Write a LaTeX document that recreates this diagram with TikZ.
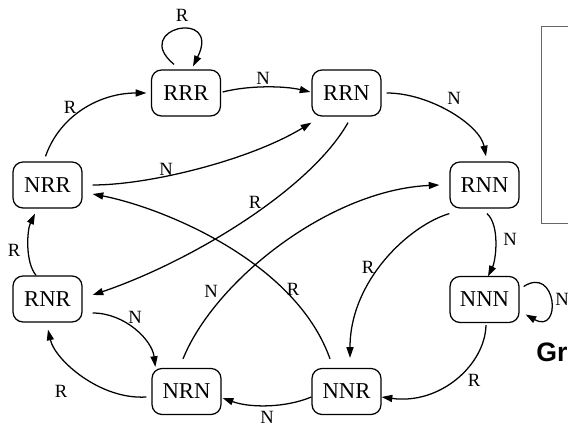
\documentclass[tikz,border=0pt]{standalone}
\usepackage{fontspec}
\setmainfont{Liberation Serif}
\newfontfamily\grfont{Liberation Sans}
\usetikzlibrary{arrows.meta,calc}
\begin{document}
\begin{tikzpicture}[x=0.75pt,y=-0.75pt,
  state/.style={draw,line width=0.95pt,rounded corners=7.5pt,minimum width=51.75pt,minimum height=34.5pt,inner sep=0pt,font=\fontsize{17}{19}\selectfont},
  arr/.style={line width=0.95pt,-{Triangle[length=8pt,width=5.3pt]}},
  lbl/.style={font=\fontsize{14}{16}\selectfont,inner sep=0pt}]
\useasboundingbox (0,0) rectangle (568,427);
\clip (0,0) rectangle (568,427);
% states
\node[state] (RRR) at (186,93) {RRR};
\node[state] (RRN) at (346.5,93) {RRN};
\node[state] (NRR) at (47.5,185) {NRR};
\node[state] (RNN) at (484.5,185) {RNN};
\node[state] (RNR) at (47.5,299) {RNR};
\node[state] (NNN) at (484.5,299.5) {NNN};
\node[state] (NRN) at (186.5,391.5) {NRN};
\node[state] (NNR) at (346.5,391.5) {NNR};
% edges
\draw[arr] ($(RRR.north)+(-12,-5)$) .. controls (130,28) and (222,8) .. ($(RRR.north)+(7,-3)$);
\draw[arr] ($(RRR.east)+(1.5,-1)$) .. controls (250,85) and (285,86) .. ($(RRN.west)+(-1,-1)$);
\draw[arr] ($(RRN.east)+(5,0)$) .. controls (430,93) and (480,125) .. ($(RNN.north)+(1.5,-5)$);
\draw[arr] ($(NRR.north)+(-2,-5)$) .. controls (60,115) and (100,93) .. ($(RRR.west)+(-4.5,0)$);
\draw[arr] ($(NRR.east)+(10,0)$) .. controls (150,185) and (250,160) .. ($(RRN.south west)+(0,6)$);
\draw[arr] ($(RRN.south)+(1.5,6)$) .. controls (310,190) and (190,262) .. ($(RNR.east)+(10,-4)$);
\draw[arr] ($(RNR.north)+(-11.5,0)$) .. controls (25,262) and (27,230) .. ($(NRR.south)+(-12.5,5)$);
\draw[arr] ($(RNR.east)+(10,14)$) .. controls (125,313) and (152,340) .. ($(NRN.north west)+(4,-1)$);
\draw[arr] ($(NRN.north)+(-3.5,-9)$) .. controls (215,280) and (330,190) .. ($(RNN.west)+(-10,0)$);
\draw[arr] ($(NNR.north)+(-16.5,-9)$) .. controls (295,260) and (160,207) .. ($(NRR.east)+(10,9)$);
\draw[arr] ($(RNN.south west)+(0,5)$) .. controls (410,225) and (350,280) .. ($(NNR.north)+(3.5,-10)$);
\draw[arr] ($(RNN.south)+(2.5,5)$) .. controls (500,225) and (496,260) .. ($(NNN.north)+(3.5,0.5)$);
\draw[arr] ($(NNN.east)+(4,-13)$) .. controls (557,265) and (562,335) .. ($(NNN.east)+(6,15)$);
\draw[arr] ($(NNN.south)+(1.5,2)$) .. controls (485,365) and (440,405) .. ($(NNR.east)+(0,5.5)$);
\draw[arr] ($(NNR.west)+(0,5.5)$) .. controls (285,408) and (250,408) .. ($(NRN.east)+(1,6.5)$);
\draw[arr] ($(NRN.west)+(-5,5.5)$) .. controls (100,400) and (55,360) .. ($(RNR.south)+(0.5,7)$);
% labels
\node[lbl] (l1) at (182,15) {R};
\node[lbl] (l2) at (263,78) {N};
\node[lbl] (l3) at (70,107) {R};
\node[lbl] (l4) at (166,169) {N};
\node[lbl] (l5) at (454,98) {N};
\node[lbl] (l6) at (255,202) {R};
\node[lbl] (l7) at (14,250) {R};
\node[lbl] (l8) at (135,317) {N};
\node[lbl] (l9) at (211,291) {N};
\node[lbl] (l10) at (293,289) {R};
\node[lbl] (l11) at (368,267) {R};
\node[lbl] (l12) at (510,239) {N};
\node[lbl,anchor=west] (l13) at (555,299) {N};
\node[lbl] (l14) at (474,380) {R};
\node[lbl] (l15) at (61,391) {R};
\node[lbl] (l16) at (267,417) {N};
% right panel fragments
\draw[black!60,line width=0.75pt] (541,27) rectangle (620,224);
\node[anchor=base west,font=\grfont\bfseries\fontsize{20}{22}\selectfont,inner sep=0pt] (gr) at (536,362) {Gr};
\end{tikzpicture}
\end{document}
